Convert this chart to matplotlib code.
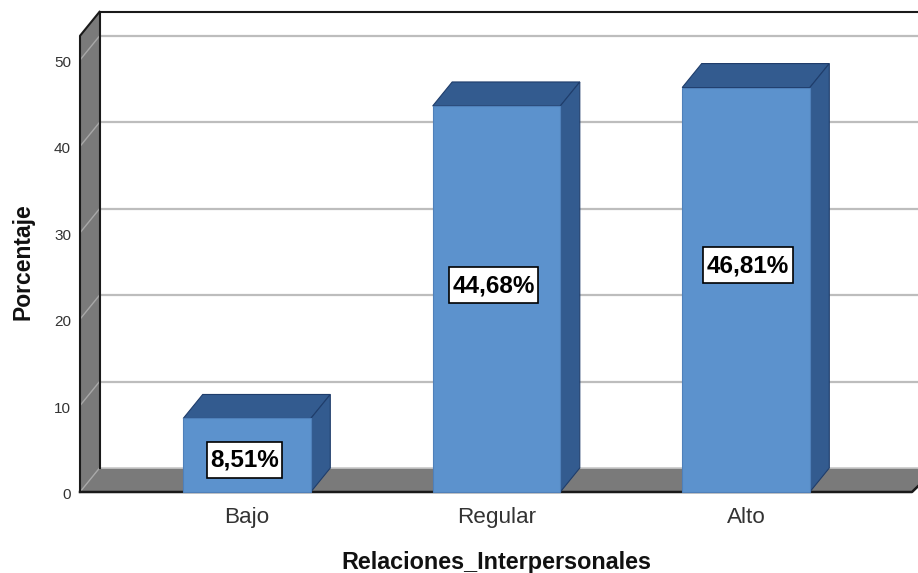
import matplotlib
matplotlib.use("Agg")
import matplotlib.pyplot as plt
from matplotlib.patches import Polygon, Rectangle

plt.rcParams['font.family'] = ['Liberation Sans', 'DejaVu Sans']

categories = ["Bajo", "Regular", "Alto"]
percentages = [8.51, 44.68, 46.81]
value_labels = ["8,51%", "44,68%", "46,81%"]
y_ticks = [0, 10, 20, 30, 40, 50]
x_title = "Relaciones_Interpersonales"
y_title = "Porcentaje"

W, H = 918, 573
PX_Y = 8.64          # pixels per percent
PX_X = 249.5         # pixels per category
X0, Y0 = 247, 492    # pixel of category 0 / value 0

# label box centres, in pixels of the picture
label_box_x = [244.5, 493.6, 748]
label_box_y = [459.5, 285, 265]

fig = plt.figure(figsize=(W / 100, H / 100), dpi=100, facecolor="white")
ax = fig.add_axes([0, 0, 1, 1])
ax.set_xlim(-X0 / PX_X, (W - X0) / PX_X)
ax.set_ylim(-(H - Y0) / PX_Y, Y0 / PX_Y)
ax.axis("off")

DX = 19.5 / PX_X     # depth in x
DY = 24 / PX_Y       # depth in y
HALF = 63.8 / PX_X   # half bar width
YTOP = 52.8
XL = (80 - X0) / PX_X
XR = (912 - X0) / PX_X
XEND = (W + 30 - X0) / PX_X

WALL = "#7a7a7a"
GRID = "#bdbdbd"
EDGE = "#1a1a1a"
FRONT = "#5c92cd"
DARK = "#335b8f"
DARKEDGE = "#1f3d6b"

def poly(pts, fc, ec="none", lw=0, z=1):
    ax.add_patch(Polygon(pts, closed=True, facecolor=fc, edgecolor=ec, linewidth=lw, zorder=z))

# left wall and floor
poly([(XL, 0), (XL + DX, DY), (XL + DX, YTOP + DY), (XL, YTOP)], WALL, z=1)
poly([(XL, 0), (XEND, 0), (XEND + DX, DY), (XL + DX, DY)], WALL, z=1)
poly([(XR, 0), (XR + 0.03, DY * 0.3), (XEND, DY * 0.3), (XEND, 0)], "white", z=1.1)

# gridlines: on side wall and back wall
for t in y_ticks:
    if t > 0:
        ax.plot([XL + DX, XEND], [t + DY, t + DY], color=GRID, lw=1.6, zorder=1.5, solid_capstyle="butt")
    ax.plot([XL, XL + DX], [t, t + DY], color="#a8a8a8", lw=1.0, zorder=1.5)
    ax.text(XL - 9 / PX_X, t - 3 / PX_Y, str(t), ha="right", va="center", fontsize=11, color="#333333")

ax.plot([XL + DX, XEND], [DY, DY], color="#c8c8c8", lw=1.2, zorder=1.6)

# frame
ax.plot([XL + DX, XL + DX], [DY, YTOP + DY], color=EDGE, lw=1.5, zorder=2)
ax.plot([XL + DX, XEND], [YTOP + DY, YTOP + DY], color=EDGE, lw=1.5, zorder=2)
ax.plot([XL, XL, XL + DX], [0, YTOP, YTOP + DY], color=EDGE, lw=1.5, zorder=2)
ax.plot([XL, XR, XR + 0.03], [0, 0, DY * 0.3], color=EDGE, lw=1.8, zorder=2)

renderer = fig.canvas.get_renderer()

# bars
for i, (c, v, lab) in enumerate(zip(categories, percentages, value_labels)):
    l, r = i - HALF, i + HALF
    poly([(l, v), (r, v), (r + DX, v + DY), (l + DX, v + DY)], DARK, DARKEDGE, 0.8, z=3)
    poly([(r, 0), (r + DX, DY), (r + DX, v + DY), (r, v)], DARK, DARKEDGE, 0.8, z=3)
    ax.add_patch(Rectangle((l, 0), r - l, v, facecolor=FRONT, edgecolor="#4f80ba", linewidth=0.8, zorder=4))
    ax.text(i, -(523 - Y0) / PX_Y, c, ha="center", va="baseline", fontsize=16.2, color="#333333")

    bx = (label_box_x[i] - X0) / PX_X
    by = (Y0 - label_box_y[i]) / PX_Y
    txt = ax.text(bx, by - 1 / PX_Y, lab, ha="center", va="center", fontsize=17.5,
                  fontweight="bold", color="black", zorder=6)
    tw = txt.get_window_extent(renderer).width
    bw = (tw + 7) / PX_X
    bh = 36 / PX_Y
    ax.add_patch(Rectangle((bx - bw / 2, by - bh / 2), bw, bh, facecolor="white",
                           edgecolor="black", linewidth=1.2, zorder=5))

ax.text((496 - X0) / PX_X, -(562 - Y0) / PX_Y, x_title, ha="center", va="center",
        fontsize=16.8, fontweight="bold", color="#111111")
ax.text((23 - X0) / PX_X, (Y0 - 262) / PX_Y, y_title, ha="center", va="center", rotation=90,
        fontsize=16.5, fontweight="bold", color="#111111")

fig.savefig("out.png", dpi=100, facecolor="white")
